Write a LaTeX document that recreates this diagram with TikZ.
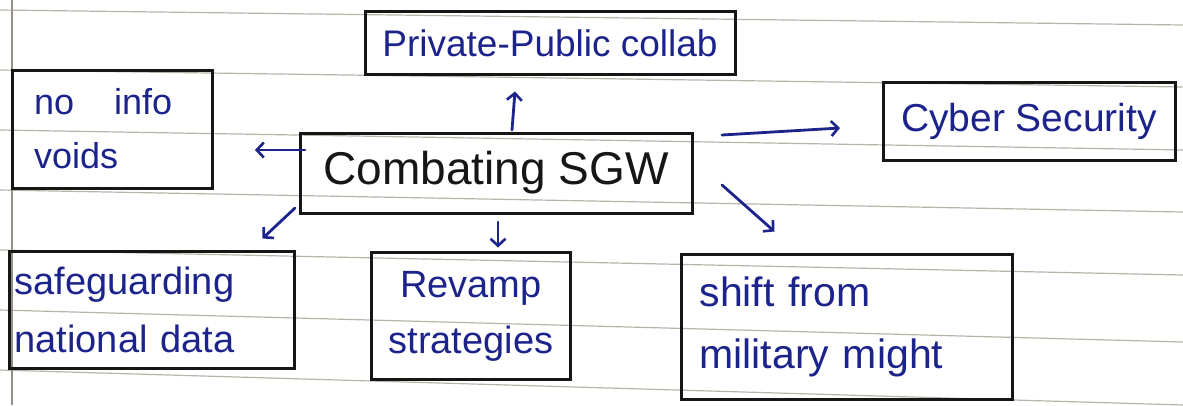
\documentclass[tikz,border=0pt]{standalone}
\usepackage{fontspec}
\setmainfont{Liberation Sans}
\usetikzlibrary{calc,arrows.meta}
\definecolor{ink}{RGB}{28,36,140}
\definecolor{pen}{RGB}{22,22,22}
\definecolor{rule}{RGB}{185,180,170}
\tikzset{
  box/.style={draw=pen, line width=3pt, inner ysep=0pt, outer sep=0pt},
  bluetext/.style={text=ink},
  arr/.style={draw=ink, line width=2.8pt, line cap=round, -{Straight Barb[length=7pt,width=15pt,line width=2.6pt]}},
  ruling/.style={draw=rule, line width=1.2pt}
}
\begin{document}
\begin{tikzpicture}[x=1pt,y=-1pt]
\useasboundingbox[fill=white] (0,0) rectangle (1183,405);
% paper rulings
\foreach \a/\b in {10/25,70/87,130/150,190/212,250/275,310/342,370/405}
  \draw[ruling] (0,\a) -- (1183,\b);
\draw[ruling, draw=rule!80!black] (12,0) -- (12,405);

% nodes
\node[box, bluetext, minimum width=370pt, minimum height=63pt, font=\fontsize{37}{40}\selectfont] (pp) at (550,43) {Private-Public collab};
\node[box, text=pen, minimum width=392pt, minimum height=80pt, font=\fontsize{46}{50}\selectfont] (comb) at (496,173) {Combating SGW};
\node[box, bluetext, minimum width=200pt, minimum height=118pt, inner xsep=22pt, text width=156pt, align=left, font=\fontsize{36}{54}\selectfont] (noinfo) at (112,129) {no\hspace{40pt}info\\voids};
\node[box, bluetext, minimum width=292pt, minimum height=78pt, font=\fontsize{39}{42}\selectfont] (cyber) at (1029,121) {Cyber Security};
\node[box, bluetext, minimum width=285pt, minimum height=117pt, inner xsep=5pt, text width=275pt, align=left, font=\fontsize{38}{58}\selectfont] (safe) at (152,310) {safeguarding\\national data};
\node[box, bluetext, minimum width=199pt, minimum height=127pt, inner xsep=4pt, text width=191pt, align=center, font=\fontsize{38}{56}\selectfont] (revamp) at (471,316) {Revamp\\strategies};
\node[box, bluetext, minimum width=331pt, minimum height=145pt, inner xsep=18pt, text width=295pt, align=left, font=\fontsize{41}{62}\selectfont] (shift) at (847,327) {shift from\\military might};

% connectors
\draw[arr] ($(comb.north)+(16,-3)$) -- ($(pp.south)+(-35,17)$);
\draw[arr] ($(comb.west)+(5,-23)$) -- ($(noinfo.east)+(43,21)$);
\draw[arr] ($(comb.north east)+(30,2)$) -- ($(cyber.west)+(-43,7)$);
\draw[arr] ($(comb.south west)+(-5,-5)$) -- ($(safe.north east)+(-32,-13)$);
\draw[arr] ($(comb.south)+(2,9)$) -- ($(revamp.north)+(27,-5)$);
\draw[arr] ($(comb.south east)+(30,-28)$) -- ($(shift.north west)+(93,-23)$);
\end{tikzpicture}
\end{document}
